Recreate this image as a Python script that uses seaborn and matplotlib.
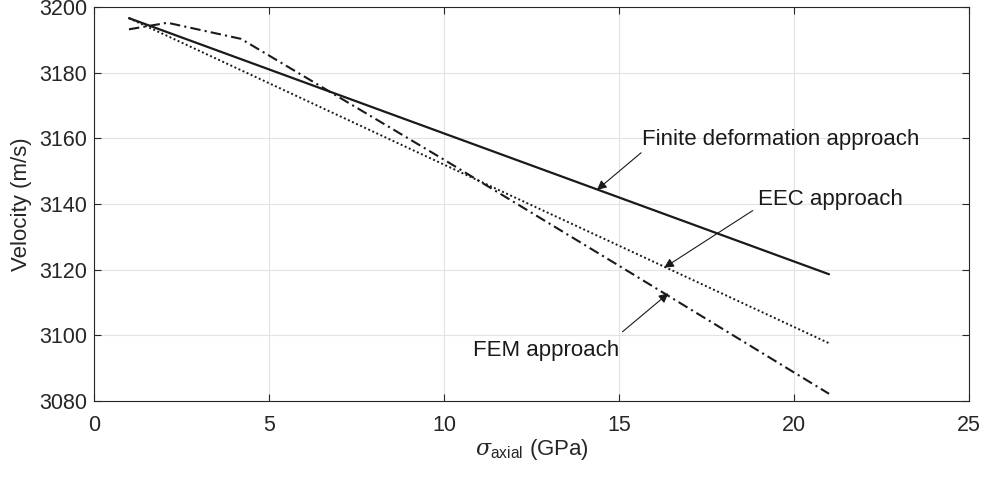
import matplotlib
matplotlib.use('Agg')
import matplotlib.pyplot as plt
import seaborn as sns

# values
x_fd = [1, 5, 10, 15, 21]
v_fd = [3196.6, 3181.0, 3161.5, 3142.0, 3118.6]

x_eec = [1, 5, 10, 15, 21]
v_eec = [3196.6, 3176.8, 3152.0, 3127.3, 3097.6]

x_fem = [1, 2.1, 4.2, 10, 15, 21]
v_fem = [3193.2, 3195.2, 3190.3, 3153.5, 3121.2, 3082.2]

# annotation label, text position, arrow tail, arrow head
labels = ['Finite deformation approach', 'EEC approach', 'FEM approach']
text_pos = [(15.66, 3159.5), (18.96, 3141.5), (10.83, 3095.3)]
arrow_tail = [(15.63, 3155.6), (18.82, 3138.0), (15.10, 3101.1)]
arrow_head = [(14.37, 3144.3), (16.29, 3120.6), (16.41, 3112.8)]

sns.set_theme(style='whitegrid')
plt.rcParams['font.family'] = ['Liberation Sans', 'DejaVu Sans']
plt.rcParams['mathtext.fontset'] = 'custom'
plt.rcParams['mathtext.rm'] = 'Liberation Sans'
plt.rcParams['mathtext.it'] = 'DejaVu Serif:italic'

fig = plt.figure(figsize=(9.86, 4.79), dpi=100)
ax = fig.add_axes([0.0953, 0.1628, 0.8875, 0.8226])

sns.lineplot(x=x_fd, y=v_fd, ax=ax, color='k', linewidth=1.6, linestyle='-')
sns.lineplot(x=x_eec, y=v_eec, ax=ax, color='k', linewidth=1.4, linestyle=(0, (1, 1.3)))
sns.lineplot(x=x_fem, y=v_fem, ax=ax, color='k', linewidth=1.5, linestyle=(0, (5, 2, 1, 2)))

for lab, tp, tail, head in zip(labels, text_pos, arrow_tail, arrow_head):
    ax.text(tp[0], tp[1], lab, fontsize=16, color='k', va='center', ha='left')
    ax.annotate('', xy=head, xytext=tail,
                arrowprops=dict(arrowstyle='-|>', color='k', lw=0.8,
                                mutation_scale=14, shrinkA=0, shrinkB=0))

ax.set_xlim(0, 25)
ax.set_ylim(3080, 3200)
ax.set_xticks([0, 5, 10, 15, 20, 25])
ax.set_yticks(range(3080, 3201, 20))
ax.grid(True, color='#e3e3e3', linewidth=0.8)
ax.set_facecolor('white')
for s in ax.spines.values():
    s.set_visible(True)
    s.set_color('#262626')
    s.set_linewidth(0.8)
ax.tick_params(axis='both', direction='in', length=5, width=0.8, color='#262626',
               labelsize=15.5, labelcolor='#262626', top=True, right=True,
               bottom=True, left=True)
ax.tick_params(axis='x', pad=10)
ax.tick_params(axis='y', pad=5)
ax.set_xlabel(r'$\sigma_{\mathrm{axial}}$ (GPa)', fontsize=16, color='#262626', labelpad=1)
ax.set_ylabel('Velocity (m/s)', fontsize=16, color='#262626', labelpad=5)

fig.savefig('out.png', dpi=100)
